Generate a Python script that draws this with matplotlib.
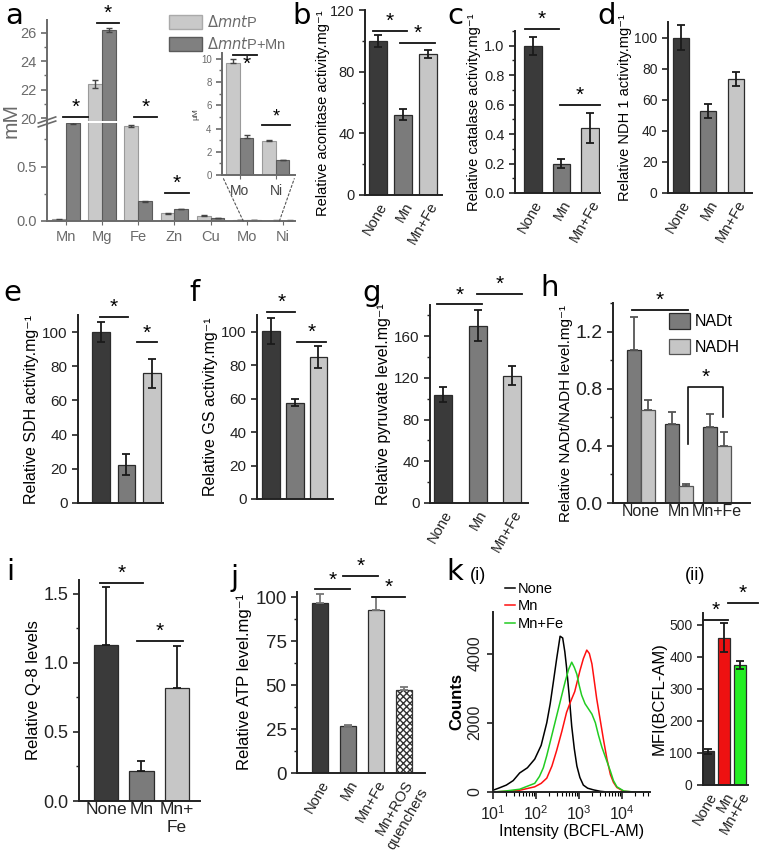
import matplotlib
matplotlib.use("Agg")
import matplotlib.pyplot as plt
from matplotlib.patches import Patch, ConnectionPatch
from matplotlib.ticker import MultipleLocator, LogLocator, NullFormatter
import numpy as np

plt.rcParams['font.family'] = ['Liberation Sans', 'DejaVu Sans']
plt.rcParams['axes.linewidth'] = 1.4

# ---------------- data ----------------
metals = ["Mn", "Mg", "Fe", "Zn", "Cu", "Mo", "Ni"]
a_mntp = [0.015, 22.4, 0.87, 0.07, 0.05, 0.008, 0.004]          # mM
a_mntp_err = [0.003, 0.25, 0.01, 0.005, 0.003, 0.001, 0.001]
a_mn = [0.9, 26.2, 0.18, 0.11, 0.025, 0.008, 0.004]
a_mn_err = [0.005, 0.15, 0.005, 0.004, 0.002, 0.001, 0.001]
inset_metals = ["Mo", "Ni"]
inset_mntp = [9.6, 2.9]            # uM
inset_mntp_err = [0.4, 0.1]
inset_mn = [3.2, 1.25]
inset_mn_err = [0.25, 0.05]

cond3 = ["None", "Mn", "Mn+Fe"]
aconitase = [100, 52, 91.5]
aconitase_err = [4, 3.5, 2.5]
catalase = [1.0, 0.2, 0.44]
catalase_err = [0.06, 0.03, 0.1]
ndh1 = [100, 53, 73.5]
ndh1_err = [8, 4.5, 4.5]
sdh = [100, 22.5, 76]
sdh_err = [6, 6, 8.5]
gs = [100.5, 57.5, 85]
gs_err = [8, 2, 6.5]
pyruvate = [104, 170, 122]
pyruvate_err = [7, 15, 9]
nadt = [1.07, 0.55, 0.53]
nadt_err = [0.23, 0.09, 0.09]
nadh = [0.65, 0.12, 0.40]
nadh_err = [0.07, 0.015, 0.1]
q8_labels = ["None", "Mn", "Mn+\nFe"]
q8 = [1.13, 0.22, 0.82]
q8_err = [0.42, 0.07, 0.30]
atp_labels = ["None", "Mn", "Mn+Fe", "Mn+ROS\nquenchers"]
atp = [97, 27, 93, 47]
atp_err = [5, 0.5, 7, 2]

# flow cytometry histogram, log10(intensity) vs counts
none_logx = [1.0, 1.15, 1.31, 1.47, 1.62, 1.80, 1.97, 2.12, 2.25, 2.33, 2.40, 2.48, 2.56, 2.62, 2.67,
             2.71, 2.77, 2.83, 2.89, 2.95, 3.02, 3.10, 3.20, 3.34, 3.50, 3.65, 4.65]
none_counts = [50, 120, 200, 330, 550, 700, 950, 1350, 2000, 2550, 3150, 3850, 4500, 4450, 4050,
               3600, 2800, 1900, 1250, 750, 420, 200, 110, 60, 20, 0, 0]
mn_logx = [1.0, 1.30, 1.62, 1.97, 2.12, 2.25, 2.37, 2.48, 2.60, 2.71, 2.80, 2.90, 2.96, 3.02, 3.10,
           3.18, 3.24, 3.30, 3.35, 3.41, 3.49, 3.57, 3.65, 3.73, 3.80, 3.88, 4.04, 4.27, 4.65]
mn_counts = [0, 20, 50, 150, 250, 400, 750, 1200, 1750, 2300, 2600, 2900, 3200, 3500, 3850,
             4100, 4000, 3700, 3250, 2700, 2100, 1500, 950, 500, 280, 130, 20, 0, 0]
mnfe_logx = [1.0, 1.30, 1.62, 1.97, 2.08, 2.17, 2.25, 2.32, 2.40, 2.48, 2.58, 2.68, 2.76, 2.83, 2.89,
             2.95, 3.00, 3.06, 3.14, 3.22, 3.30, 3.38, 3.45, 3.53, 3.63, 3.73, 3.80, 3.88, 4.04, 4.27, 4.65]
mnfe_counts = [0, 30, 80, 250, 450, 700, 1050, 1400, 1800, 2200, 2700, 3200, 3550, 3750, 3600,
               3400, 3100, 2800, 2550, 2400, 2250, 2000, 1650, 1300, 950, 600, 330, 150, 30, 0, 0]

mfi = [105, 460, 375]
mfi_err = [8, 45, 12]

# ---------------- style ----------------
DARK, MID, LIGHT = '#3a3a3a', '#7b7b7b', '#c6c6c6'
EDGE = '#2b2b2b'
W, H = 760, 852
fig = plt.figure(figsize=(W / 100, H / 100), dpi=100)


def box(l, t, r, b):
    return [l / W, 1 - b / H, (r - l) / W, (b - t) / H]


def style(ax, size=10, color='#222222'):
    for s in ['top', 'right']:
        ax.spines[s].set_visible(False)
    ax.spines['left'].set_color(color)
    ax.spines['bottom'].set_color(color)
    ax.tick_params(axis='y', which='major', length=4, width=1.2, labelsize=size, colors=color)
    ax.tick_params(axis='y', which='minor', length=2.5, width=1.0, colors=color)
    ax.tick_params(axis='x', length=0, labelsize=size, colors=color)


def bars(ax, vals, errs, cols, width, lower_only=False):
    x = np.arange(len(vals))
    yerr = [np.zeros(len(errs)), errs] if lower_only else errs
    ax.bar(x, vals, width, color=cols, edgecolor=EDGE, linewidth=0.9,
           yerr=yerr, capsize=3, error_kw=dict(elinewidth=1.3, capthick=1.3, ecolor='#1a1a1a'))
    return x


def sig(ax, x1, x2, y, size=15):
    ax.plot([x1, x2], [y, y], color='#111111', lw=1.3, clip_on=False)
    ax.text((x1 + x2) / 2, y, '*', ha='center', va='bottom', fontsize=size, clip_on=False)


def letter(x, y, s):
    fig.text(x / W, 1 - y / H, s, fontsize=21, family='DejaVu Sans', va='center', ha='center')


def rot_labels(ax, labels, size=10):
    ax.set_xticks(range(len(labels)))
    ax.set_xticklabels(labels, rotation=60, ha='right', rotation_mode='anchor', fontsize=size)


cols3 = [DARK, MID, LIGHT]

# ---------------- panel a ----------------
GRAY = '#6a6a6a'
ax_up = fig.add_axes(box(47, 20, 295, 121))
ax_lo = fig.add_axes(box(47, 123, 295, 221))
xa = np.arange(len(metals))
for ax in (ax_up, ax_lo):
    ax.bar(xa - 0.19, a_mntp, 0.38, color='#c9c9c9', edgecolor='#9a9a9a', linewidth=0.8,
           yerr=a_mntp_err, capsize=2, error_kw=dict(elinewidth=1, ecolor='#444444'))
    ax.bar(xa + 0.19, a_mn, 0.38, color='#808080', edgecolor='#5a5a5a', linewidth=0.8,
           yerr=a_mn_err, capsize=2, error_kw=dict(elinewidth=1, ecolor='#444444'))
    ax.set_xlim(-0.52, 6.33)
    style(ax, size=10.5, color=GRAY)
ax_up.set_ylim(19.8, 26.9)
ax_up.spines['bottom'].set_visible(False)
ax_up.set_xticks([])
ax_up.yaxis.set_major_locator(MultipleLocator(2))
ax_up.yaxis.set_minor_locator(MultipleLocator(1))
ax_lo.set_ylim(0, 0.9)
ax_lo.yaxis.set_minor_locator(MultipleLocator(0.25))
ax_lo.set_yticks([0, 0.5])
ax_lo.set_yticklabels(['0.0', '0.5'])
ax_lo.set_xticks(xa)
ax_lo.set_xticklabels(metals, fontsize=10.5, color=GRAY)
ax_lo.tick_params(axis='x', length=3, colors=GRAY)
# break marks
ax_up.plot([-0.035, 0.035], [-0.02, 0.04], transform=ax_up.transAxes, color=GRAY, lw=1.2, clip_on=False)
ax_lo.plot([-0.035, 0.035], [0.96, 1.02], transform=ax_lo.transAxes, color=GRAY, lw=1.2, clip_on=False)
fig.text(11 / W, 1 - 120 / H, 'mM', rotation=90, fontsize=15, color=GRAY, va='center', ha='center')
sig(ax_up, -0.08, 0.6, 20.07)
sig(ax_up, 0.85, 1.48, 26.7)
sig(ax_up, 1.89, 2.52, 20.07)
sig(ax_lo, 2.74, 3.4, 0.26)
leg = ax_up.legend(handles=[Patch(facecolor='#c9c9c9', edgecolor='#aaaaaa'),
                            Patch(facecolor='#808080', edgecolor='#5a5a5a')],
                   labels=[r'$\Delta\mathit{mnt}$P', r'$\Delta\mathit{mnt}$P+Mn'],
                   loc='upper left', bbox_to_anchor=(163 / W, 1 - 8 / H), bbox_transform=fig.transFigure,
                   frameon=False, fontsize=10.5, handlelength=2.3, handleheight=1.1,
                   labelspacing=0.4, handletextpad=0.3, borderaxespad=0)
for t in leg.get_texts():
    t.set_color(GRAY)

# inset
ax_in = fig.add_axes(box(222, 53, 295, 175))
xi = np.arange(len(inset_metals))
ax_in.bar(xi - 0.19, inset_mntp, 0.37, color='#c9c9c9', edgecolor='#9a9a9a', linewidth=0.8,
          yerr=[[0, 0], inset_mntp_err], capsize=2, error_kw=dict(elinewidth=1, ecolor='#444444'))
ax_in.bar(xi + 0.19, inset_mn, 0.37, color='#808080', edgecolor='#5a5a5a', linewidth=0.8,
          yerr=[[0, 0], inset_mn_err], capsize=2, error_kw=dict(elinewidth=1, ecolor='#444444'))
ax_in.set_xlim(-0.5, 1.53)
ax_in.set_ylim(0, 10.5)
style(ax_in, size=7, color=GRAY)
ax_in.patch.set_alpha(0)
ax_in.yaxis.set_major_locator(MultipleLocator(2))
ax_in.yaxis.set_minor_locator(MultipleLocator(1))
ax_in.set_xticks(xi)
ax_in.set_xticklabels(inset_metals, fontsize=10, color='#444444')
ax_in.tick_params(axis='x', length=3)
ax_in.set_ylabel('μM', fontsize=6, color='#444444', labelpad=1)
ax_in.plot([-0.19, 0.47], [10.35, 10.35], color='#111111', lw=1.3, clip_on=False)
ax_in.text(0.2, 10.3, '*', ha='center', va='top', fontsize=15)
sig(ax_in, 0.61, 1.39, 4.3, size=13)
con1 = ConnectionPatch(xyA=(5 - 0.1, 0), coordsA=ax_lo.transData, xyB=(0.02, -0.03), coordsB=ax_in.transAxes,
                       ls=(0, (2, 2)), color='#555555', lw=0.8)
con2 = ConnectionPatch(xyA=(6 - 0.1, 0), coordsA=ax_lo.transData, xyB=(0.99, -0.03), coordsB=ax_in.transAxes,
                       ls=(0, (2, 2)), color='#555555', lw=0.8)
fig.add_artist(con1)
fig.add_artist(con2)
letter(14, 16, 'a')

# ---------------- panel b ----------------
ax = fig.add_axes(box(365, 10, 442, 195))
bars(ax, aconitase, aconitase_err, cols3, 0.72)
ax.set_xlim(-0.52, 2.56)
ax.set_ylim(0, 120)
style(ax, size=10.5)
ax.yaxis.set_major_locator(MultipleLocator(40))
ax.yaxis.set_minor_locator(MultipleLocator(20))
rot_labels(ax, cond3, 10.5)
ax.set_ylabel('Relative aconitase activity.mg⁻¹', fontsize=10.5, labelpad=2)
ax.yaxis.set_label_coords(-0.45, 0.44)
sig(ax, -0.2, 1.16, 106.5)
sig(ax, 0.88, 2.28, 98.7)
letter(302, 16, 'b')

# ---------------- panel c ----------------
ax = fig.add_axes(box(515, 31, 600, 193))
bars(ax, catalase, catalase_err, cols3, 0.6)
ax.set_xlim(-0.63, 2.35)
ax.set_ylim(0, 1.1)
style(ax, size=10.5)
ax.yaxis.set_minor_locator(MultipleLocator(0.1))
ax.set_yticks(np.arange(0, 1.01, 0.2))
ax.set_yticklabels([f'{v:.1f}' for v in np.arange(0, 1.01, 0.2)])
rot_labels(ax, cond3, 10.5)
ax.set_ylabel('Relative catalase activity.mg⁻¹', fontsize=10.5, labelpad=2)
sig(ax, -0.28, 0.91, 1.115)
sig(ax, 0.95, 2.35, 0.6)
letter(455, 16, 'c')

# ---------------- panel d ----------------
ax = fig.add_axes(box(668, 22, 752, 193))
bars(ax, ndh1, ndh1_err, cols3, 0.58)
ax.set_xlim(-0.47, 2.58)
ax.set_ylim(0, 110)
style(ax, size=10)
ax.yaxis.set_major_locator(MultipleLocator(20))
rot_labels(ax, cond3, 10.5)
ax.set_ylabel('Relative NDH 1 activity.mg⁻¹', fontsize=10.5, labelpad=2)
letter(607, 16, 'd')

# ---------------- panel e ----------------
ax = fig.add_axes(box(78, 315, 163, 503))
bars(ax, sdh, sdh_err, cols3, 0.7)
ax.set_xlim(-0.9, 2.43)
ax.set_ylim(0, 110)
style(ax, size=11)
ax.yaxis.set_major_locator(MultipleLocator(20))
ax.set_xticks([])
ax.set_ylabel('Relative SDH activity.mg⁻¹', fontsize=11.5, labelpad=2)
sig(ax, -0.04, 1.06, 109)
sig(ax, 1.41, 2.2, 94)
letter(12, 293, 'e')

# ---------------- panel f ----------------
ax = fig.add_axes(box(257, 315, 333, 499))
bars(ax, gs, gs_err, cols3, 0.75)
ax.set_xlim(-0.6, 2.62)
ax.set_ylim(0, 110)
style(ax, size=11)
ax.yaxis.set_major_locator(MultipleLocator(20))
ax.set_xticks([])
ax.set_ylabel('Relative GS activity.mg⁻¹', fontsize=11.5, labelpad=2)
sig(ax, -0.17, 1.02, 112)
sig(ax, 1.1, 2.34, 94)
letter(194, 293, 'f')

# ---------------- panel g ----------------
ax = fig.add_axes(box(430, 305, 528, 503))
bars(ax, pyruvate, pyruvate_err, cols3, 0.52)
ax.set_xlim(-0.38, 2.46)
ax.set_ylim(0, 190)
style(ax, size=11)
ax.yaxis.set_major_locator(MultipleLocator(40))
ax.yaxis.set_minor_locator(MultipleLocator(20))
rot_labels(ax, cond3, 10.5)
ax.set_ylabel('Relative pyruvate level.mg⁻¹', fontsize=11.5, labelpad=2)
sig(ax, -0.17, 1.13, 190.6)
sig(ax, 0.99, 2.29, 201)
letter(372, 293, 'g')

# ---------------- panel h ----------------
ax = fig.add_axes(box(613, 303, 750, 503))
xh = np.arange(3)
ax.bar(xh - 0.185, nadt, 0.37, color=MID, edgecolor=EDGE, linewidth=0.9,
       yerr=[[0, 0, 0], nadt_err], capsize=3, error_kw=dict(elinewidth=1.3, capthick=1.3, ecolor='#555555'),
       label='NADt')
ax.bar(xh + 0.185, nadh, 0.37, color=LIGHT, edgecolor='#555555', linewidth=0.9,
       yerr=[[0, 0, 0], nadh_err], capsize=3, error_kw=dict(elinewidth=1.3, capthick=1.3, ecolor='#555555'),
       label='NADH')
ax.set_xlim(-0.74, 2.87)
ax.set_ylim(0, 1.4)
style(ax, size=14)
ax.yaxis.set_minor_locator(MultipleLocator(0.2))
ax.set_yticks([0, 0.4, 0.8, 1.2])
ax.set_yticklabels(['0.0', '0.4', '0.8', '1.2'])
ax.set_xticks(xh)
ax.set_xticklabels(cond3, fontsize=11.5)
ax.tick_params(axis='x', pad=1)
ax.set_ylabel('Relative NADt/NADH level.mg⁻¹', fontsize=11, labelpad=2)
ax.yaxis.set_label_coords(-0.29, 0.45)
sig(ax, -0.24, 1.24, 1.35)
ax.plot([1.24, 1.24, 2.16, 2.16], [0.41, 0.81, 0.81, 0.6], color='#111111', lw=1.2)
ax.text(1.7, 0.81, '*', ha='center', va='bottom', fontsize=15)
ax.legend(loc='upper right', bbox_to_anchor=(1.03, 1.02), frameon=False, fontsize=11.5,
          handlelength=1.3, handleheight=1.1, handletextpad=0.3, labelspacing=0.6)
letter(550, 288, 'h')

# ---------------- panel i ----------------
ax = fig.add_axes(box(79, 580, 200, 801))
bars(ax, q8, q8_err, cols3, 0.7, lower_only=True)
ax.set_xlim(-0.76, 2.65)
ax.set_ylim(0, 1.6)
style(ax, size=13)
ax.yaxis.set_minor_locator(MultipleLocator(0.25))
ax.set_yticks([0, 0.5, 1.0, 1.5])
ax.set_yticklabels(['0.0', '0.5', '1.0', '1.5'])
ax.set_xticks(range(3))
ax.set_xticklabels(q8_labels, fontsize=12.5, va='top')
ax.tick_params(axis='x', pad=1)
ax.set_ylabel('Relative Q-8 levels', fontsize=12, labelpad=2)
sig(ax, -0.17, 1.04, 1.58)
sig(ax, 0.87, 2.17, 1.156)
letter(10, 572, 'i')

# ---------------- panel j ----------------
ax = fig.add_axes(box(297, 592, 425, 773))
xj = np.arange(len(atp))
ax.bar(xj[:3], atp[:3], 0.6, color=cols3, edgecolor=EDGE, linewidth=0.9,
       yerr=[[0, 0, 0], atp_err[:3]], capsize=3, error_kw=dict(elinewidth=1.3, capthick=1.3, ecolor='#777777'))
ax.bar(xj[3:], atp[3:], 0.6, color='white', edgecolor='#333333', hatch='xxxxx', linewidth=0.9,
       yerr=[[0], atp_err[3:]], capsize=3, error_kw=dict(elinewidth=1.3, capthick=1.3, ecolor='#777777'))
ax.set_xlim(-0.82, 3.75)
ax.set_ylim(0, 103)
style(ax, size=13.5)
ax.yaxis.set_major_locator(MultipleLocator(25))
ax.yaxis.set_minor_locator(MultipleLocator(12.5))
rot_labels(ax, atp_labels, 10.5)
ax.set_ylabel('Relative ATP level.mg⁻¹', fontsize=12, labelpad=2)
sig(ax, -0.18, 1.07, 104.5)
sig(ax, 0.82, 2.07, 112)
sig(ax, 1.86, 3.04, 100)
letter(235, 578, 'j')

# ---------------- panel k(i) ----------------
ax = fig.add_axes(box(493, 612, 650, 792))
ax.plot(10 ** np.array(none_logx), none_counts, color='black', lw=1.1, label='None')
ax.plot(10 ** np.array(mn_logx), mn_counts, color='#ff1010', lw=1.1, label='Mn')
ax.plot(10 ** np.array(mnfe_logx), mnfe_counts, color='#22cc22', lw=1.1, label='Mn+Fe')
ax.set_xscale('log')
ax.set_xlim(10, 10 ** 4.65)
ax.set_ylim(0, 5200)
style(ax, size=11.5)
ax.tick_params(axis='x', which='major', length=5, width=1.2, labelsize=11.5)
ax.tick_params(axis='x', which='minor', length=3, width=0.8)
ax.xaxis.set_major_locator(LogLocator(base=10, numticks=10))
ax.xaxis.set_minor_locator(LogLocator(base=10, subs=np.arange(2, 10), numticks=20))
ax.xaxis.set_minor_formatter(NullFormatter())
ax.set_yticks([0, 2000, 4000])
for lab in ax.get_yticklabels():
    lab.set_rotation(90)
    lab.set_va('center')
ax.set_xlabel('Intensity (BCFL-AM)', fontsize=11.5, labelpad=1)
ax.set_ylabel('Counts', fontsize=12, fontweight='bold', labelpad=2)
ax.legend(loc='upper left', bbox_to_anchor=(0.04, 1.2), frameon=False, fontsize=10.5,
          handlelength=0.7, handletextpad=0.2, labelspacing=0.25, borderaxespad=0)
letter(455, 572, 'k')
fig.text(478 / W, 1 - 575 / H, '(i)', fontsize=13, va='center', ha='center')
fig.text(695 / W, 1 - 575 / H, '(ii)', fontsize=13, va='center', ha='center')

# ---------------- panel k(ii) ----------------
ax = fig.add_axes(box(703, 613, 748, 785))
bars(ax, mfi, mfi_err, ['#333333', '#ee1111', '#22ee22'], 0.75)
ax.set_xlim(-0.31, 2.5)
ax.set_ylim(0, 537)
style(ax, size=10)
ax.yaxis.set_major_locator(MultipleLocator(100))
rot_labels(ax, cond3, 10.5)
ax.set_ylabel('MFI(BCFL-AM)', fontsize=12, labelpad=2)
sig(ax, -0.31, 1.25, 516)
sig(ax, 1.25, 3.1, 569)

fig.savefig('out.png', dpi=100)
